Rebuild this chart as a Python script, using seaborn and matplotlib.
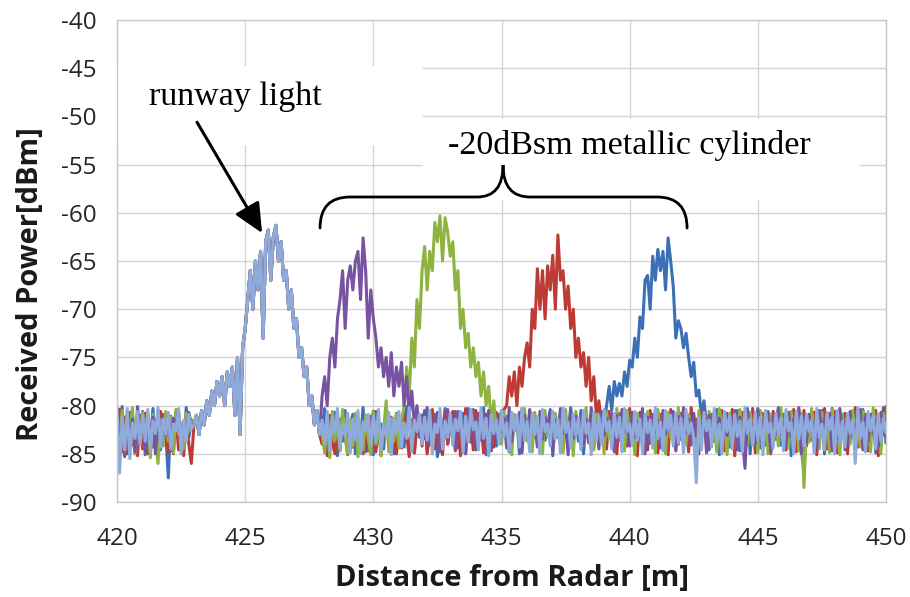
import matplotlib
matplotlib.use("Agg")
import matplotlib.pyplot as plt
from matplotlib.patches import PathPatch, Rectangle
from matplotlib.path import Path
import numpy as np
import pandas as pd
import seaborn as sns

# ---------------------------------------------------------------------------
# Data (0.1 m range bins from 420.0 to 450.0 m)
# ---------------------------------------------------------------------------
distance = np.round(np.linspace(420.0, 450.0, 301), 1)

# runway light echo, 423.0 .. 427.9 m, seen in every scan
runway_peak = [
    -82.0, -81.0, -83.0, -80.5, -82.0, -79.5, -81.0, -78.5, -80.0, -77.5,
    -79.0, -77.0, -80.0, -76.5, -78.0, -76.0, -81.0, -75.0, -83.0, -74.0,
    -72.0, -69.0, -66.0, -70.0, -65.0, -68.0, -64.0, -73.0, -63.0, -61.8,
    -67.0, -62.5, -61.3, -65.0, -63.0, -67.0, -66.0, -70.0, -68.0, -72.0,
    -71.0, -75.0, -74.0, -77.0, -76.0, -80.0, -79.0, -82.0, -80.5, -83.0,
]

# noise floor 420.0 .. 422.9 m
blue_pre = [
    -81.5, -84.2, -80.1, -85.3, -82.0, -83.6, -80.8, -84.9, -81.3, -83.1,
    -80.6, -85.1, -82.4, -84.0, -80.3, -83.5, -81.7, -84.6, -80.9, -82.8,
    -87.5, -81.1, -84.4, -80.5, -83.9, -81.8, -84.7, -80.2, -83.3, -81.6,
]
red_pre = [
    -82.3, -80.4, -84.8, -81.2, -85.0, -80.7, -84.1, -82.6, -85.2, -81.0,
    -84.5, -80.8, -85.0, -82.1, -84.3, -81.5, -85.1, -80.6, -83.8, -82.2,
    -84.9, -81.3, -85.0, -80.9, -84.6, -82.5, -85.2, -81.1, -84.0, -86.0,
]
green_pre = [
    -81.0, -83.9, -80.5, -84.7, -81.6, -82.8, -80.2, -85.0, -81.9, -83.2,
    -80.7, -84.4, -81.3, -85.4, -80.9, -83.6, -86.0, -81.5, -84.2, -80.6,
    -83.7, -81.2, -84.9, -80.4, -83.0, -81.8, -84.5, -80.8, -82.7, -81.4,
]
purple_pre = [
    -80.2, -84.0, -81.7, -85.1, -80.6, -83.3, -81.4, -84.8, -80.1, -82.9,
    -81.9, -84.5, -80.8, -83.6, -81.2, -85.0, -80.5, -84.2, -81.6, -83.1,
    -80.9, -84.7, -81.3, -82.5, -80.4, -84.4, -81.8, -83.2, -80.7, -82.0,
]
light_pre = [
    -80.5, -87.0, -81.2, -84.6, -80.3, -85.5, -81.8, -83.4, -80.6, -84.1,
    -81.0, -83.7, -80.4, -84.8, -81.6, -82.9, -80.2, -84.3, -81.4, -83.0,
    -80.7, -84.5, -81.9, -82.6, -80.3, -85.0, -81.5, -83.8, -80.9, -82.4,
]

# cylinder at ~441 m: noise 428.0..439.0, echo 439.1..443.0, noise 443.1..450.0
blue_noise_a = [
    -82.4, -80.3, -84.6, -81.8, -83.0, -80.7, -85.2, -81.4, -83.7, -80.5,
    -84.1, -82.0, -80.9, -85.0, -81.6, -83.4, -80.2, -84.8, -82.3, -81.1,
    -85.1, -80.6, -83.2, -81.9, -84.5, -80.4, -82.7, -81.3, -85.0, -80.8,
    -83.9, -81.7, -84.3, -80.1, -82.5, -81.5, -84.9, -80.7, -83.3, -82.1,
    -80.5, -84.7, -81.2, -83.6, -80.9, -85.3, -81.8, -82.8, -80.3, -84.0,
    -81.4, -83.1, -80.6, -84.4, -82.2, -80.8, -85.0, -81.0, -83.8, -80.4,
    -84.6, -81.6, -82.9, -80.2, -85.1, -81.3, -83.5, -80.7, -84.2, -81.9,
    -80.5, -83.0, -81.1, -84.8, -80.9, -82.6, -81.7, -85.0, -80.3, -83.4,
    -81.5, -84.1, -80.8, -82.7, -81.2, -84.9, -80.6, -83.6, -82.0, -80.4,
    -85.2, -81.4, -83.3, -80.7, -84.5, -81.8, -82.8, -80.2, -84.0, -81.0,
    -83.7, -80.5, -85.0, -81.6, -82.5, -80.9, -84.4, -81.3, -83.1, -80.6,
    -82.2,
]
blue_peak = [
    -80.0, -78.0, -80.5, -77.5, -79.0, -77.7, -79.0, -76.5, -78.0,
    -75.3, -76.0, -73.0, -75.0, -70.8, -72.0, -67.0, -66.5, -70.0, -64.5,
    -67.0, -63.8, -66.0, -64.0, -68.0, -62.6, -65.0, -67.6, -73.0, -71.2,
    -72.0, -74.0, -72.5, -75.0, -77.0, -75.5, -79.0, -78.4, -81.0, -79.5,
    -82.0,
]
blue_noise_b = [
    -84.6, -81.0, -83.5, -80.4, -85.1, -81.7, -82.9, -80.8, -84.3, -81.2,
    -83.8, -80.5, -84.7, -81.9, -82.6, -80.3, -85.0, -81.5, -83.2, -80.9,
    -84.4, -81.3, -82.8, -80.6, -84.9, -81.8, -83.4, -80.2, -84.1, -81.1,
    -82.7, -80.7, -85.2, -81.4, -83.6, -80.4, -84.5, -87.0, -81.6, -83.0,
    -80.8, -84.2, -81.2, -82.5, -80.5, -85.0, -81.9, -83.3, -80.3, -84.8,
    -81.5, -82.9, -80.9, -84.6, -81.0, -83.7, -80.6, -85.1, -81.7, -82.6,
    -80.4, -84.0, -81.3, -83.5, -80.7, -84.9, -81.8, -82.8, -80.2, -83.9,
]

# cylinder at ~437 m: noise 428.0..435.1, echo 435.2..438.9, noise 439.0..450.0
red_noise_a = [
    -84.0, -82.5, -85.2, -81.0, -83.8, -85.0, -82.1, -84.6, -80.8, -83.2,
    -85.1, -81.6, -84.3, -80.9, -83.9, -82.4, -85.0, -81.3, -84.7, -82.0,
    -80.6, -84.8, -81.9, -85.2, -82.7, -80.5, -84.1, -81.2, -83.6, -85.0,
    -81.8, -84.4, -80.7, -83.0, -85.3, -81.5, -84.9, -82.3, -80.9, -84.2,
    -81.1, -85.0, -82.6, -80.4, -84.5, -81.7, -83.3, -85.1, -80.8, -84.0,
    -82.2, -80.6, -84.7, -81.4, -85.2, -82.8, -80.3, -83.7, -81.9, -84.6,
    -80.5, -83.1, -81.6, -84.9, -80.9, -82.9, -81.2, -84.3, -80.7, -83.5,
    -81.8, -80.4,
]
red_peak = [
    -80.0, -77.0, -79.0, -76.5, -80.0, -76.0, -78.0, -75.0,
    -73.5, -76.0, -70.0, -72.0, -65.8, -70.0, -66.0, -71.0, -65.5, -68.0,
    -64.4, -70.0, -62.3, -67.0, -66.0, -70.0, -67.6, -72.0, -70.0, -75.0,
    -73.0, -76.0, -74.5, -78.0, -75.0, -79.5, -77.0, -81.0, -79.5, -82.0,
]
red_noise_b = [
    -81.3, -84.5, -80.6, -83.2, -81.9, -85.0, -80.8, -82.7, -81.5, -84.2,
    -80.3, -83.8, -81.1, -85.2, -80.7, -82.6, -81.8, -84.6, -80.5, -83.4,
    -81.2, -84.9, -80.9, -82.8, -81.6, -85.1, -80.4, -83.6, -81.0, -84.0,
    -80.8, -82.5, -81.7, -84.8, -80.2, -83.1, -81.4, -85.0, -80.6, -82.9,
    -81.3, -84.3, -80.9, -83.7, -81.8, -82.6, -80.5, -84.7, -81.1, -83.0,
    -80.4, -85.2, -81.6, -82.8, -80.7, -84.4, -81.9, -83.3, -80.3, -84.9,
    -81.5, -82.7, -80.8, -84.1, -81.2, -85.0, -80.6, -83.5, -81.7, -82.5,
    -80.9, -84.6, -81.0, -83.2, -80.4, -84.8, -81.8, -82.9, -80.5, -84.2,
    -81.4, -83.6, -80.7, -85.1, -81.1, -82.6, -80.3, -84.5, -81.9, -83.0,
    -80.6, -84.9, -81.3, -82.8, -80.8, -85.0, -81.6, -83.4, -80.2, -84.3,
    -81.7, -82.7, -80.9, -84.7, -81.0, -83.1, -80.5, -85.2, -81.5, -82.6,
    -80.1,
]

# cylinder at ~433 m: noise 428.0..431.1, echo 431.2..434.8, noise 434.9..450.0
green_noise_a = [
    -82.8, -84.9, -81.2, -85.4, -80.6, -83.6, -81.9, -84.7, -80.4, -83.0,
    -85.0, -81.5, -84.2, -80.8, -85.3, -82.1, -84.6, -81.0, -83.4, -85.1,
    -80.7, -84.0, -81.8, -85.2, -82.5, -79.5, -84.8, -81.3, -83.7, -80.9,
    -84.4, -81.6,
]
green_peak = [
    -80.0, -76.0, -79.0, -73.0, -76.0, -69.0, -72.0, -66.0,
    -63.5, -68.0, -64.0, -66.0, -61.0, -63.0, -60.3, -65.0, -60.5, -62.0,
    -64.5, -63.0, -68.0, -66.0, -72.0, -70.0, -74.0, -72.5, -76.0, -74.0,
    -77.0, -75.5, -79.0, -76.5, -80.0, -78.0, -82.0, -79.5, -83.0,
]
green_noise_b = [
    -81.2,
    -84.0, -80.6, -83.3, -81.8, -85.1, -80.9, -82.7, -81.4, -84.5, -80.3,
    -83.7, -81.1, -84.8, -80.7, -82.9, -81.6, -85.0, -80.5, -83.2, -81.9,
    -84.3, -80.8, -82.6, -81.3, -84.9, -80.4, -83.5, -81.0, -85.2, -80.6,
    -82.8, -81.7, -84.1, -80.2, -83.9, -81.5, -84.6, -80.9, -82.5, -81.2,
    -85.0, -80.7, -83.4, -81.8, -84.4, -80.3, -82.9, -81.1, -84.7, -80.5,
    -83.1, -81.6, -85.1, -80.8, -82.7, -81.4, -84.2, -80.6, -83.8, -81.0,
    -84.9, -80.4, -82.6, -81.9, -85.0, -80.7, -83.3, -81.3, -84.5, -80.2,
    -82.8, -81.7, -84.0, -80.9, -83.6, -81.2, -85.2, -80.5, -82.9, -81.5,
    -84.3, -80.6, -83.0, -81.8, -84.8, -80.3, -82.5, -81.1, -85.1, -80.8,
    -83.7, -81.4, -84.6, -80.4, -82.7, -81.9, -84.1, -80.7, -83.2, -81.0,
    -84.9, -80.5, -82.6, -81.6, -85.0, -80.9, -83.5, -81.3, -84.2, -80.2,
    -82.9, -81.8, -84.4, -80.6, -83.1, -81.2, -84.7, -80.8, -88.5, -81.5,
    -83.8, -80.3, -82.7, -81.7, -84.5, -80.7, -83.3, -81.0, -84.9, -80.4,
    -82.6, -81.4, -85.1, -80.9, -83.6, -81.1, -84.0, -80.5, -82.8, -81.9,
    -84.3, -80.6, -83.0, -81.3, -84.8, -80.2, -82.5, -81.6, -85.0, -80.8,
    -82.4,
]

# cylinder at ~429 m: echo 428.0..431.8, noise 431.9..450.0
purple_peak = [
    -79.0, -77.0, -80.0, -75.0, -73.0, -76.0, -71.0, -69.0, -66.0, -72.0,
    -67.0, -65.5, -68.0, -65.0, -64.0, -69.0, -62.6, -66.0, -73.0, -68.0,
    -71.0, -73.0, -76.0, -74.0, -77.0, -75.0, -78.0, -74.5, -79.0, -76.0,
    -78.0, -75.5, -80.0, -77.0, -81.0, -78.5, -82.0, -80.0, -83.0,
]
purple_noise = [
    -81.0,
    -83.4, -80.2, -84.1, -81.5, -82.6, -80.7, -84.8, -81.9, -83.0, -80.4,
    -82.7, -81.2, -84.5, -80.6, -83.3, -81.7, -85.0, -80.3, -82.9, -81.4,
    -84.2, -80.8, -83.6, -81.1, -82.5, -80.5, -84.7, -81.8, -83.1, -80.9,
    -82.8, -81.3, -84.4, -80.2, -83.7, -81.6, -82.4, -80.7, -84.9, -81.0,
    -83.2, -80.4, -82.6, -81.9, -84.3, -80.6, -83.5, -81.2, -82.7, -80.8,
    -84.6, -81.5, -83.0, -80.3, -82.9, -81.8, -85.1, -80.5, -83.4, -81.1,
    -82.5, -80.9, -84.0, -81.4, -83.8, -80.2, -82.8, -81.7, -84.5, -80.6,
    -83.1, -81.3, -82.4, -80.8, -84.8, -81.0, -83.6, -80.4, -82.7, -81.9,
    -84.2, -80.7, -83.3, -81.6, -82.6, -80.3, -85.0, -81.2, -83.9, -80.9,
    -82.8, -81.5, -84.4, -80.5, -83.0, -81.8, -82.5, -80.6, -84.7, -81.1,
    -83.5, -80.2, -82.9, -81.4, -84.1, -80.8, -83.2, -81.7, -82.6, -80.4,
    -84.9, -81.0, -83.7, -80.7, -82.4, -81.3, -84.3, -80.9, -83.1, -81.6,
    -82.7, -80.5, -84.6, -81.2, -83.4, -86.5, -80.6, -82.8, -81.9, -84.0,
    -80.3, -83.6, -81.5, -82.5, -80.8, -84.8, -81.1, -83.0, -80.4, -82.9,
    -81.8, -84.2, -80.7, -83.3, -81.4, -82.6, -80.2, -85.0, -81.0, -83.8,
    -80.9, -82.7, -81.6, -84.5, -80.5, -83.1, -81.3, -82.4, -80.8, -84.7,
    -81.2, -83.5, -80.3, -82.8, -81.7, -84.1, -80.6, -83.2, -81.9, -82.5,
    -80.4, -84.6, -81.1, -83.7, -80.9, -82.9, -81.5, -84.3, -80.7, -83.0,
    -81.3,
]

# no cylinder: noise 428.0..450.0
light_noise = [
    -81.5, -83.9, -80.6, -84.7, -81.2, -82.8, -80.3, -84.4, -81.9, -83.1,
    -80.8, -84.9, -81.4, -83.5, -80.5, -85.0, -81.7, -82.6, -80.9, -84.2,
    -81.1, -83.7, -80.4, -84.6, -82.0, -83.2, -80.7, -85.1, -81.3, -82.9,
    -80.6, -84.3, -81.8, -83.4, -80.2, -84.8, -81.5, -82.7, -80.9, -84.0,
    -81.2, -83.6, -80.5, -85.0, -81.9, -82.8, -80.3, -84.5, -81.6, -83.3,
    -80.8, -84.1, -81.4, -82.6, -80.6, -84.9, -81.1, -83.8, -80.4, -82.5,
    -81.7, -84.6, -80.2, -83.4, -81.3, -85.2, -80.9, -82.9, -81.5, -84.0,
    -80.5, -83.2, -81.8, -84.7, -80.7, -82.6, -81.0, -84.3, -80.3, -83.6,
    -81.6, -84.8, -80.8, -83.0, -81.2, -85.0, -80.4, -82.7, -81.9, -84.2,
    -80.6, -83.5, -81.4, -84.9, -80.2, -82.8, -81.7, -84.4, -80.9, -83.1,
    -81.3, -84.6, -80.5, -82.9, -81.8, -85.1, -80.7, -83.7, -81.1, -84.0,
    -80.4, -82.6, -81.6, -84.5, -80.8, -83.3, -81.2, -84.8, -80.3, -82.7,
    -81.9, -84.1, -80.6, -83.6, -81.4, -85.0, -80.9, -82.8, -81.5, -84.4,
    -80.2, -83.4, -81.7, -84.7, -80.5, -82.5, -81.0, -84.2, -80.8, -83.9,
    -81.3, -84.9, -80.4, -82.9, -81.8, -83.5, -88.0, -81.2, -84.6, -80.7,
    -82.6, -81.5, -84.3, -80.3, -83.8, -81.9, -85.0, -80.6, -82.7, -81.1,
    -84.5, -80.9, -83.2, -81.6, -84.8, -80.2, -82.9, -81.4, -84.1, -80.7,
    -83.6, -81.2, -85.1, -80.5, -82.8, -81.8, -84.4, -80.8, -83.0, -81.3,
    -84.7, -80.4, -82.6, -81.7, -85.0, -80.6, -83.5, -81.1, -84.2, -80.9,
    -82.7, -81.5, -84.9, -80.3, -83.3, -81.9, -84.6, -80.7, -82.5, -81.2,
    -85.0, -80.5, -83.8, -81.6, -84.3, -80.8, -82.9, -81.4, -86.0, -80.2,
    -83.4, -81.7, -84.8, -80.6, -82.6, -81.0, -84.5, -80.9, -83.7, -81.3,
    -82.8,
]

scans = {
    "441 m": blue_pre + runway_peak + blue_noise_a + blue_peak + blue_noise_b,
    "437 m": red_pre + runway_peak + red_noise_a + red_peak + red_noise_b,
    "433 m": green_pre + runway_peak + green_noise_a + green_peak + green_noise_b,
    "429 m": purple_pre + runway_peak + purple_peak + purple_noise,
    "none": light_pre + runway_peak + light_noise,
}
colors = {
    "441 m": "#3C70B6",
    "437 m": "#BD3A35",
    "433 m": "#8DB440",
    "429 m": "#7853A2",
    "none": "#8FABDC",
}

x_ticks = [420, 425, 430, 435, 440, 445, 450]
y_ticks = [-90, -85, -80, -75, -70, -65, -60, -55, -50, -45, -40]

# ---------------------------------------------------------------------------
# Plot
# ---------------------------------------------------------------------------
frames = []
for name, values in scans.items():
    assert len(values) == len(distance), (name, len(values))
    frames.append(pd.DataFrame({"distance": distance, "power": values, "scan": name}))
df = pd.concat(frames, ignore_index=True)

sns.set_theme(style="white")
plt.rcParams["font.family"] = ["Open Sans", "DejaVu Sans"]
plt.rcParams["axes.unicode_minus"] = False

fig = plt.figure(figsize=(9.10, 5.97), dpi=100)
ax = fig.add_axes([0.1286, 0.1591, 0.8450, 0.8074])

sns.lineplot(
    data=df, x="distance", y="power", hue="scan",
    hue_order=list(scans), palette=colors,
    estimator=None, sort=False, lw=2.2, legend=False, ax=ax, zorder=2,
)

ax.set_xlim(420, 450)
ax.set_ylim(-90, -40)
ax.set_xticks(x_ticks)
ax.set_yticks(y_ticks)
ax.grid(True, color="#D4D4D4", lw=1.0)
ax.set_axisbelow(True)
for side in ax.spines.values():
    side.set_color("#C8C8C8")
    side.set_linewidth(1.0)
ax.tick_params(axis="both", direction="out", length=4, width=1.0,
               color="#B0B0B0", labelsize=17.5, labelcolor="#262626")
ax.tick_params(axis="x", pad=14)
ax.tick_params(axis="y", pad=11)

ax.set_xlabel("Distance from Radar [m]", fontsize=21, fontweight="bold", color="#1a1a1a")
ax.set_ylabel("Received Power[dBm]", fontsize=21, fontweight="bold", color="#1a1a1a")
ax.xaxis.set_label_coords(0.514, -0.128)
ax.yaxis.set_label_coords(-0.094, 0.453)

# white text boxes hiding the grid behind the annotations
ax.add_patch(Rectangle((420.04, -52.97), 11.9, 8.2, facecolor="white",
                       edgecolor="none", zorder=1))
ax.add_patch(Rectangle((431.94, -58.67), 17.05, 8.4, facecolor="white",
                       edgecolor="none", zorder=1))

serif = ["Liberation Serif", "DejaVu Serif"]
ax.text(424.6, -48.0, "runway light", family=serif, fontsize=24.5,
        ha="center", va="center", color="black", zorder=4)
ax.text(440.0, -52.97, "-20dBsm metallic cylinder", family=serif, fontsize=24.5,
        ha="center", va="center", color="black", zorder=4)

ax.annotate("", xy=(425.66, -62.1), xytext=(423.12, -50.6),
            arrowprops=dict(arrowstyle="-|>,head_length=0.9,head_width=0.42",
                            color="black", lw=2.2, mutation_scale=20,
                            shrinkA=0, shrinkB=0),
            zorder=5)

# curly brace over the four cylinder echoes
brace = Path(
    [(427.92, -61.58), (427.92, -58.36), (429.09, -58.36),
     (434.05, -58.36),
     (435.06, -58.36), (435.06, -55.04),
     (435.06, -58.36), (436.11, -58.36),
     (441.07, -58.36),
     (442.24, -58.36), (442.24, -61.58)],
    [Path.MOVETO, Path.CURVE3, Path.CURVE3,
     Path.LINETO,
     Path.CURVE3, Path.CURVE3,
     Path.CURVE3, Path.CURVE3,
     Path.LINETO,
     Path.CURVE3, Path.CURVE3],
)
ax.add_patch(PathPatch(brace, facecolor="none", edgecolor="black", lw=2.0,
                       zorder=5, capstyle="round"))

fig.savefig("out.png", dpi=100)
